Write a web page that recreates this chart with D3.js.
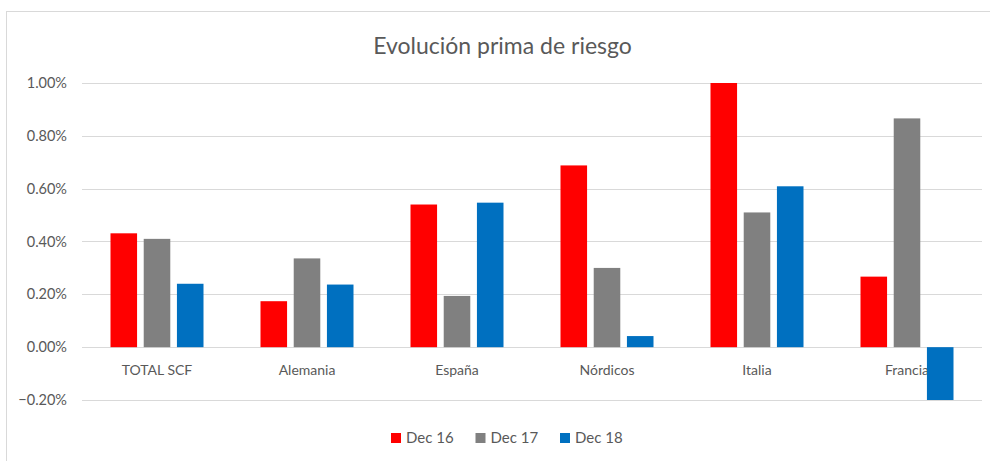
<!DOCTYPE html>
<html>
<head>
<meta charset="utf-8">
<script src="https://cdn.jsdelivr.net/npm/d3@7"></script>
<style>
  body { margin: 0; background: #fff; }
  text { font-family: Lato, "Open Sans", sans-serif; fill: #595959; }
</style>
</head>
<body>
<script>
var categories = ["TOTAL SCF", "Alemania", "España", "Nórdicos", "Italia", "Francia"];
var seriesNames = ["Dec 16", "Dec 17", "Dec 18"];
var dec16 = [0.431, 0.174, 0.540, 0.688, 1.000, 0.267];
var dec17 = [0.410, 0.336, 0.194, 0.300, 0.510, 0.866];
var dec18 = [0.240, 0.237, 0.547, 0.042, 0.609, -0.200];
var yTicks = [-0.2, 0, 0.2, 0.4, 0.6, 0.8, 1.0];
var colors = ["#FF0000", "#808080", "#0070C0"];

var width = 990, height = 461;
var svg = d3.select("body").append("svg").attr("width", width).attr("height", height);

// chart frame
svg.append("rect")
    .attr("x", 6.5).attr("y", 11.5)
    .attr("width", 1000).attr("height", 500)
    .attr("fill", "none").attr("stroke", "#d9d9d9");

var x0 = d3.scaleBand().domain(categories).range([82, 982]);
var x1 = d3.scaleBand().domain(seriesNames).range([-46.5, 46.5]).paddingInner(0.2);
var y = d3.scaleLinear().domain([-0.2, 1.0]).range([400, 83]);

var data = categories.map(function (c, i) {
    return { cat: c, vals: [dec16[i], dec17[i], dec18[i]] };
});

// gridlines
svg.append("g").selectAll("line")
    .data(yTicks)
    .enter().append("line")
    .attr("x1", 82).attr("x2", 982)
    .attr("y1", function (d) { return Math.round(y(d)) + 0.5; })
    .attr("y2", function (d) { return Math.round(y(d)) + 0.5; })
    .attr("stroke", "#d9d9d9").attr("stroke-width", 1);

// y axis labels
svg.append("g").selectAll("text")
    .data(yTicks)
    .enter().append("text")
    .attr("x", 67)
    .attr("y", function (d) { return y(d); })
    .attr("dy", "0.35em")
    .attr("text-anchor", "end")
    .style("font-size", "14.5px")
    .text(function (d) { return d3.format(".2f")(d) + "%"; });

// category labels (drawn before bars, Francia is partly covered)
svg.append("g").selectAll("text")
    .data(categories)
    .enter().append("text")
    .attr("x", function (d) { return x0(d) + x0.bandwidth() / 2; })
    .attr("y", 370)
    .attr("dy", "0.35em")
    .attr("text-anchor", "middle")
    .style("font-size", "14px")
    .text(function (d) { return d; });

// bars
var group = svg.append("g").selectAll("g")
    .data(data)
    .enter().append("g")
    .attr("transform", function (d) { return "translate(" + (x0(d.cat) + x0.bandwidth() / 2) + ",0)"; });

group.selectAll("rect")
    .data(function (d) { return d.vals.map(function (v, j) { return { v: v, s: seriesNames[j], j: j }; }); })
    .enter().append("rect")
    .attr("x", function (d) { return x1(d.s); })
    .attr("width", x1.bandwidth())
    .attr("y", function (d) { return y(Math.max(0, d.v)); })
    .attr("height", function (d) { return Math.abs(y(d.v) - y(0)); })
    .attr("fill", function (d) { return colors[d.j]; });

// title
svg.append("text")
    .attr("x", 502.5).attr("y", 54)
    .attr("text-anchor", "middle")
    .style("font-size", "23px")
    .text("Evolución prima de riesgo");

// legend
var legendX = [391, 475.5, 560];
var legend = svg.append("g").selectAll("g")
    .data(seriesNames)
    .enter().append("g")
    .attr("transform", function (d, i) { return "translate(" + legendX[i] + ",438)"; });
legend.append("rect")
    .attr("x", 0).attr("y", -5)
    .attr("width", 10).attr("height", 10)
    .attr("fill", function (d, i) { return colors[i]; });
legend.append("text")
    .attr("x", 15).attr("y", 0)
    .attr("dy", "0.35em")
    .style("font-size", "15px")
    .text(function (d) { return d; });
</script>
</body>
</html>
